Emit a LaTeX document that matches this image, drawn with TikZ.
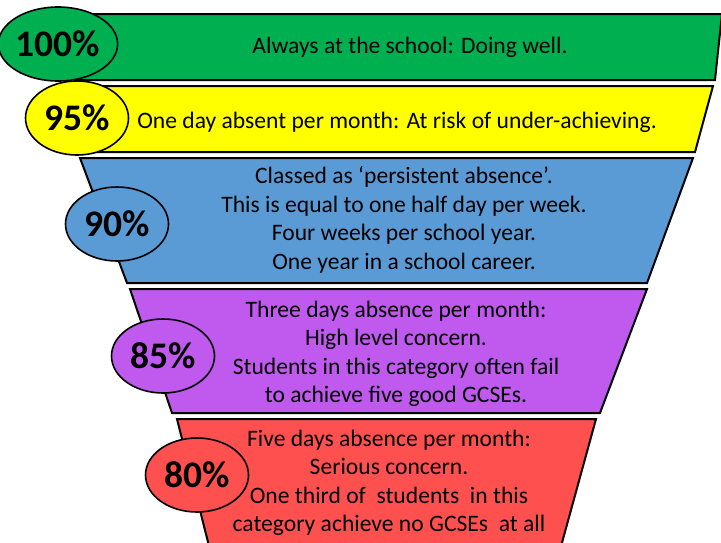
\documentclass[tikz,border=0pt]{standalone}
\usepackage{fontspec}
\setmainfont{Carlito}
\usetikzlibrary{shapes.geometric}
\definecolor{cgreen}{HTML}{00B050}
\definecolor{cyellow}{HTML}{FFFF00}
\definecolor{cblue}{HTML}{5B9BD5}
\definecolor{cpurple}{HTML}{C05AEE}
\definecolor{cred}{HTML}{FF5050}
\tikzset{
  band/.style={draw=black, line width=2pt, line join=miter},
  pct/.style={ellipse, draw=black, line width=1.6pt, inner sep=0pt, minimum width=103pt, minimum height=74pt, font=\fontsize{37.5}{42}\selectfont\bfseries},
  txt/.style={align=center, inner sep=0pt, font=\fontsize{23.6}{28.5}\selectfont}
}
\begin{document}
\begin{tikzpicture}[x=1pt,y=-1pt]
\useasboundingbox (0,0) rectangle (721,542);
\clip (0,0) rectangle (721,542);
% bands
\draw[band, fill=cgreen] (80,14) -- (722,14) -- (715,80) -- (75,80) -- cycle;
\draw[band, fill=cyellow] (72,86) -- (713,86) -- (695,152) -- (80,152) -- cycle;
\draw[band, fill=cblue] (80,158) -- (693,158) -- (647,283) -- (127,283) -- cycle;
\draw[band, fill=cpurple] (130,289) -- (647,289) -- (600,413) -- (172,413) -- cycle;
\draw[band, fill=cred] (177,419) -- (596,419) -- (560,550) -- (210,550) -- cycle;
% texts
\node[txt] (t1) at (410,47) {Always at the school: Doing well.};
\node[txt] (t2) at (397,122) {One day absent per month: At risk of under-achieving.};
\node[txt] (t3) at (404,220) {Classed as ‘persistent absence’.\\This is equal to one half day per week.\\Four weeks per school year.\\One year in a school career.};
\node[txt] (t4) at (396,354) {Three days absence per month:\\High level concern.\\Students in this category often fail\\to achieve five good GCSEs.};
\node[txt] (t5) at (389,483) {Five days absence per month:\\Serious concern.\\One third of\ \ students\ \ in this\\category achieve no GCSEs\ \ at all};
% percentage ellipses
\node[pct, fill=cgreen] (p1) at (58,44) {100\%};
\node[pct, fill=cyellow] (p2) at (77,118) {95\%};
\node[pct, fill=cblue] (p3) at (117,224) {90\%};
\node[pct, fill=cpurple] (p4) at (163,356) {85\%};
\node[pct, fill=cred] (p5) at (197,475) {80\%};
\end{tikzpicture}
\end{document}
